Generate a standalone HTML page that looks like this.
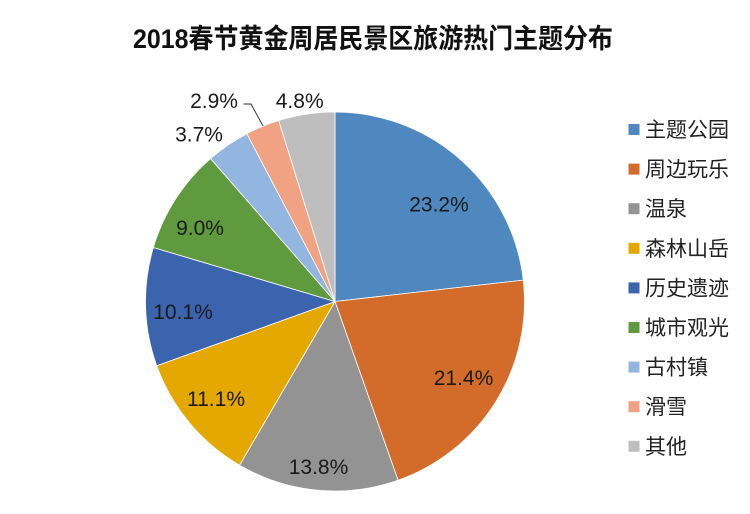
<!DOCTYPE html>
<html>
<head>
<meta charset="utf-8">
<style>
  html,body{margin:0;padding:0;background:#fff;}
  svg{display:block;}
</style>
</head>
<body>
<svg width="750" height="514" viewBox="0 0 750 514" xmlns="http://www.w3.org/2000/svg">
  <rect width="750" height="514" fill="#fff"/>
  <!-- Title -->
  <text x="133" y="48" textLength="480" lengthAdjust="spacingAndGlyphs" font-family="'Liberation Sans','Noto Sans CJK SC',sans-serif" font-weight="bold" font-size="27" fill="#111">2018春节黄金周居民景区旅游热门主题分布</text>

  <!-- Pie slices -->
  <g stroke="#ffffff" stroke-width="0.8" stroke-linejoin="round">
    <path d="M335,301.5 L335,112 A189.5,189.5 0 0 1 523.29,280.11 Z" fill="#4f88bf"/>
    <path d="M335,301.5 L523.29,280.11 A189.5,189.5 0 0 1 398.06,480.20 Z" fill="#d36b2b"/>
    <path d="M335,301.5 L398.06,480.20 A189.5,189.5 0 0 1 239.56,465.21 Z" fill="#939393"/>
    <path d="M335,301.5 L239.56,465.21 A189.5,189.5 0 0 1 156.70,365.69 Z" fill="#e4a800"/>
    <path d="M335,301.5 L156.70,365.69 A189.5,189.5 0 0 1 153.36,247.48 Z" fill="#3c64ae"/>
    <path d="M335,301.5 L153.36,247.48 A189.5,189.5 0 0 1 210.57,158.57 Z" fill="#5f9a3f"/>
    <path d="M335,301.5 L210.57,158.57 A189.5,189.5 0 0 1 246.86,133.74 Z" fill="#92b6e0"/>
    <path d="M335,301.5 L246.86,133.74 A189.5,189.5 0 0 1 278.71,120.55 Z" fill="#f0a283"/>
    <path d="M335,301.5 L278.71,120.55 A189.5,189.5 0 0 1 335,112 Z" fill="#bebebe"/>
  </g>

  <!-- Leader line for 2.9% -->
  <polyline points="243.5,104 251,104 263,126" fill="none" stroke="#333" stroke-width="1"/>

  <!-- Data labels -->
  <g font-family="'Liberation Sans',sans-serif" font-size="21" fill="#1a1a1a" text-anchor="middle">
    <text x="439" y="211.7">23.2%</text>
    <text x="463.5" y="385">21.4%</text>
    <text x="318.5" y="474">13.8%</text>
    <text x="216" y="406">11.1%</text>
    <text x="183" y="319">10.1%</text>
    <text x="200" y="235">9.0%</text>
    <text x="199" y="141.7">3.7%</text>
    <text x="214" y="108">2.9%</text>
    <text x="299.7" y="108">4.8%</text>
  </g>

  <!-- Legend -->
  <g>
    <rect x="628.5" y="124" width="11" height="11" fill="#4f88bf"/>
    <rect x="628.5" y="163.6" width="11" height="11" fill="#d36b2b"/>
    <rect x="628.5" y="203.2" width="11" height="11" fill="#939393"/>
    <rect x="628.5" y="242.8" width="11" height="11" fill="#e4a800"/>
    <rect x="628.5" y="282.4" width="11" height="11" fill="#3c64ae"/>
    <rect x="628.5" y="322" width="11" height="11" fill="#5f9a3f"/>
    <rect x="628.5" y="361.6" width="11" height="11" fill="#92b6e0"/>
    <rect x="628.5" y="401.2" width="11" height="11" fill="#f0a283"/>
    <rect x="628.5" y="440.8" width="11" height="11" fill="#bebebe"/>
  </g>
  <g font-family="'Liberation Sans','Noto Sans CJK SC',sans-serif" font-size="21" fill="#222">
    <text x="645" y="137">主题公园</text>
    <text x="645" y="176.6">周边玩乐</text>
    <text x="645" y="216.2">温泉</text>
    <text x="645" y="255.8">森林山岳</text>
    <text x="645" y="295.4">历史遗迹</text>
    <text x="645" y="335">城市观光</text>
    <text x="645" y="374.6">古村镇</text>
    <text x="645" y="414.2">滑雪</text>
    <text x="645" y="453.8">其他</text>
  </g>
</svg>
</body>
</html>
